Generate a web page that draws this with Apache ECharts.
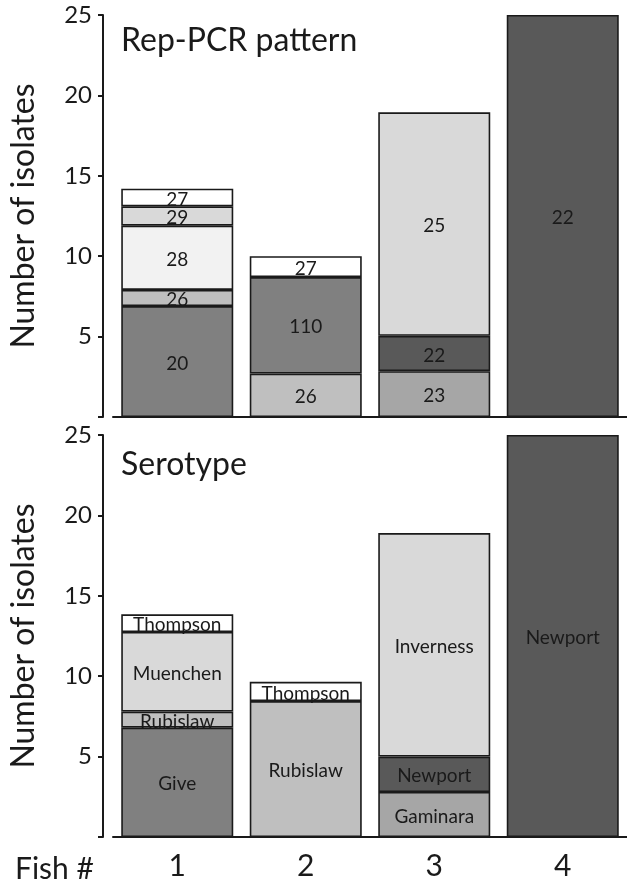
<!DOCTYPE html>
<html>
<head>
<meta charset="utf-8">
<script src="https://cdn.jsdelivr.net/npm/echarts@6/dist/echarts.min.js"></script>
<style>
html,body{margin:0;padding:0;background:#fff;}
#chart{width:627px;height:882px;}
</style>
</head>
<body>
<div id="chart"></div>
<script>
// ---- data ----
const categories = ['1', '2', '3', '4'];
const yTicks = [0, 5, 10, 15, 20, 25];

// Rep-PCR pattern (stack layers from bottom to top)
const repLayer1 = [6.9, 2.7, 2.85, 25];
const repNames1 = ['20', '26', '23', '22'];
const repLayer2 = [1.0, 6.0, 2.2, null];
const repNames2 = ['26', '110', '22', ''];
const repLayer3 = [4.0, 1.3, 13.9, null];
const repNames3 = ['28', '27', '25', ''];
const repLayer4 = [1.2, null, null, null];
const repNames4 = ['29', '', '', ''];
const repLayer5 = [1.1, null, null, null];
const repNames5 = ['27', '', '', ''];

// Serotype (stack layers from bottom to top)
const serLayer1 = [6.8, 8.45, 2.8, 25];
const serNames1 = ['Give', 'Rubislaw', 'Gaminara', 'Newport'];
const serLayer2 = [1.0, 1.2, 2.2, null];
const serNames2 = ['Rubislaw', 'Thompson', 'Newport', ''];
const serLayer3 = [4.95, null, 13.9, null];
const serNames3 = ['Muenchen', '', 'Inverness', ''];
const serLayer4 = [1.1, null, null, null];
const serNames4 = ['Thompson', '', '', ''];

// ---- styles ----
const repShade = {'20':'#808080','26':'#bfbfbf','28':'#f2f2f2','29':'#d9d9d9','27':'#ffffff','110':'#808080','23':'#a6a6a6','22':'#595959','25':'#d9d9d9'};
const serShade = {'Give':'#808080','Rubislaw':'#bfbfbf','Muenchen':'#d9d9d9','Thompson':'#ffffff','Gaminara':'#a6a6a6','Newport':'#595959','Inverness':'#d9d9d9'};
const FONT = 'Lato';
const INK = '#1a1a1a';

function layer(values, names, shades, gi, stack) {
  return {
    type: 'bar', stack: stack, xAxisIndex: gi, yAxisIndex: gi,
    barWidth: 112,
    data: values.map((v, i) => v == null ? null : {value: v, tag: names[i], itemStyle: {color: shades[names[i]]}}),
    itemStyle: {borderColor: INK, borderWidth: 1.6},
    label: {show: true, position: 'inside', offset: [0, 2], color: INK, fontFamily: FONT, fontSize: 19,
      formatter: p => (p.data && p.data.tag) ? p.data.tag : ''},
    emphasis: {disabled: true},
    animation: false
  };
}

function yAx(gi) {
  return {
    type: 'value', gridIndex: gi, min: yTicks[0], max: yTicks[yTicks.length - 1], interval: 5,
    offset: 10,
    name: 'Number of isolates', nameLocation: 'middle', nameGap: 63,
    nameTextStyle: {fontFamily: FONT, fontSize: 32, color: INK},
    axisLine: {show: true, lineStyle: {color: INK, width: 2}},
    axisTick: {show: true, length: 5, lineStyle: {color: INK, width: 2}},
    axisLabel: {fontFamily: FONT, fontSize: 24, color: INK, margin: 11,
      formatter: v => v === 0 ? '' : String(v)},
    splitLine: {show: false}
  };
}

function xAx(gi, showLabels) {
  return {
    type: 'category', gridIndex: gi, data: categories,
    axisLine: {show: true, lineStyle: {color: INK, width: 2}},
    axisTick: {show: false},
    axisLabel: {show: showLabels, fontFamily: FONT, fontSize: 30, color: INK, margin: 14}
  };
}

const chart = echarts.init(document.getElementById('chart'), null, {renderer: 'canvas'});
chart.setOption({
  backgroundColor: '#ffffff',
  animation: false,
  title: [
    {text: 'Rep-PCR pattern', left: 116, top: 20, textStyle: {fontFamily: FONT, fontSize: 32, fontWeight: 'normal', color: INK}},
    {text: 'Serotype', left: 116, top: 444, textStyle: {fontFamily: FONT, fontSize: 32, fontWeight: 'normal', color: INK}},
    {text: 'Fish #', left: 10, top: 849, textStyle: {fontFamily: FONT, fontSize: 30, fontWeight: 'normal', color: INK}}
  ],
  grid: [
    {left: 112, right: -5, top: 15, height: 402},
    {left: 112, right: -5, top: 435, height: 402}
  ],
  xAxis: [xAx(0, false), xAx(1, true)],
  yAxis: [yAx(0), yAx(1)],
  series: [
    layer(repLayer1, repNames1, repShade, 0, 'rep'),
    layer(repLayer2, repNames2, repShade, 0, 'rep'),
    layer(repLayer3, repNames3, repShade, 0, 'rep'),
    layer(repLayer4, repNames4, repShade, 0, 'rep'),
    layer(repLayer5, repNames5, repShade, 0, 'rep'),
    layer(serLayer1, serNames1, serShade, 1, 'ser'),
    layer(serLayer2, serNames2, serShade, 1, 'ser'),
    layer(serLayer3, serNames3, serShade, 1, 'ser'),
    layer(serLayer4, serNames4, serShade, 1, 'ser')
  ]
});
</script>
</body>
</html>
